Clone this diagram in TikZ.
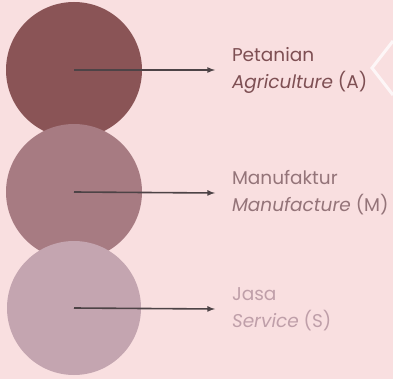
\documentclass[tikz,border=0pt]{standalone}
\usepackage{fontspec}
\setmainfont{Poppins}
\usepackage{tikz}
\usetikzlibrary{positioning,arrows,shapes}
\definecolor{bgpink}{HTML}{F9DFE0}
\definecolor{agricol}{HTML}{8A5456}
\definecolor{manucol}{HTML}{A77B82}
\definecolor{servcol}{HTML}{C4A5B0}
\definecolor{agritext}{HTML}{7E4F53}
\definecolor{manutext}{HTML}{947479}
\definecolor{servtext}{HTML}{BF9FA9}
\definecolor{linkgray}{HTML}{4D4346}
\tikzset {
    style A/.style={
        fill=agricol,
        draw=none,
        circle, % Set the shape as a circle
        inner sep=0pt,
        minimum size=136pt,
    },
    style B/.style={
        style A,
        fill=manucol,
    },
    style C/.style={
        style A,
        fill=servcol,
        minimum size=134pt,
    },
    style D/.style={
        anchor=west,
        inner sep=0pt,
        outer xsep=17pt,
        align=left,
        font=\fontsize{18.5}{27}\selectfont,
    },
}

\begin{document}
\begin{tikzpicture}
        [x=1pt, y=-1pt, link/.style={draw=linkgray, line width=1.6pt, -latex}]

        \fill[bgpink] (0,0) rectangle (393,379);
        \useasboundingbox (0,0) rectangle (393,379);

        \node[style A] at (74,70) (agri) {};
        \node[style B] at (74,192) (manu) {};
        \node[style C] at (74,308) (serv) {};

        \node[style D, text=agritext] at (215,70) (agriTxt) {Petanian\\\textit{Agriculture} (A)};
        \node[style D, text=manutext] at (215,193) (manuTxt) {Manufaktur\\\textit{Manufacture} (M)};
        \node[style D, text=servtext] at (215,309) (servTxt) {Jasa\\\textit{Service} (S)};

        \draw[link] (agri.center) -- (agriTxt.west);
        \draw[link] (manu.center) -- (manuTxt.west);
        \draw[link] (serv.center) -- (servTxt.west);

        % white edge at the right border
        \draw[white, opacity=.75, line width=3pt] (393,41) -- (372,68) -- (393,95);
    \end{tikzpicture}
\end{document}
